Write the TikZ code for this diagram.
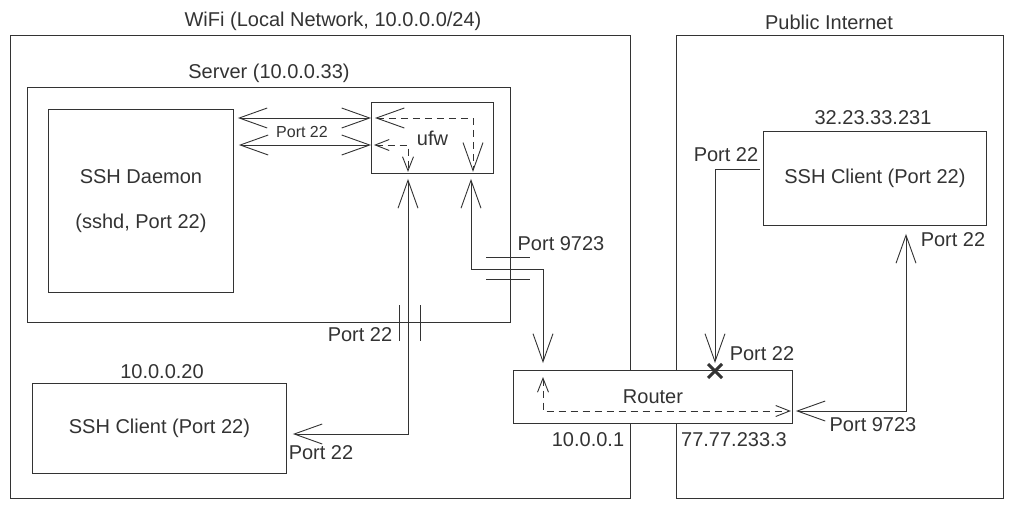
\documentclass[tikz,border=0pt]{standalone}
\usepackage{fontspec}
\setmainfont{Liberation Sans}
\usetikzlibrary{arrows.meta, shapes.misc}

\begin{document}
\begin{tikzpicture}[x=1pt, y=-1pt, line width=0.9pt, color=black!80,
    font=\fontsize{20}{24}\selectfont,
    box/.style={draw, inner sep=0pt, anchor=north west, fill=white},
    big/.style={>={Straight Barb[length=28pt, width=20pt]}},
    small/.style={>={Straight Barb[length=14pt, width=11pt]}},
    fwd/.style={dash pattern=on 7pt off 5pt}]
      \useasboundingbox (0,0) rectangle (1012,509);

      % 枠
      \node [box, minimum width=620pt, minimum height=463pt] (wifi) at (10,35) {};
      \node [box, minimum width=327pt, minimum height=463pt] (inet) at (676,35) {};
      \node [box, minimum width=483pt, minimum height=235pt] (server) at (27,87) {};
      \node [box, minimum width=185pt, minimum height=183pt, align=center] (sshd) at (48,109) {SSH Daemon\\[21pt](sshd, Port 22)};
      \node [box, minimum width=122pt, minimum height=71pt] (ufw) at (371,102) {ufw};
      \node [box, minimum width=254pt, minimum height=90pt] (client1) at (32,383) {SSH Client (Port 22)};
      \node [box, minimum width=223pt, minimum height=94pt] (client2) at (763,131) {SSH Client (Port 22)};
      \node [box, minimum width=279pt, minimum height=53pt] (router) at (513,370) {Router};

      % 説明
      \node (wifilbl) at (333,21) {WiFi (Local Network, 10.0.0.0/24)};
      \node (inetlbl) at (829,22) {Public Internet};
      \node (serverlbl) at (269,73) {Server (10.0.0.33)};
      \node (client1lbl) at (162,372) {10.0.0.20};
      \node (client2lbl) at (873,118) {32.23.33.231};
      \node (lanlbl) at (588,440) {10.0.0.1};
      \node (wanlbl) at (734,440) {77.77.233.3};

      % sshd <-> ufw
      \draw [big, <->] ([xshift=4pt]sshd.east |- 0,118) -- (ufw.west |- 0,118);
      \draw [big, <->] ([xshift=5pt]sshd.east |- 0,145) -- (ufw.west |- 0,145);
      \node [font=\fontsize{16}{19}\selectfont] (p22sshd) at (302,132) {Port 22};
      \draw [big, <->, fwd] ([xshift=4pt]ufw.west |- 0,118) -- (473,118) -- ([yshift=2pt]ufw.south -| 473,0);
      \draw [small, <->, fwd] ([xshift=3pt]ufw.west |- 0,145) -- (408,145) -- ([yshift=2pt]ufw.south -| 408,0);

      % LAN
      \draw [big, <->] ([yshift=-5pt]ufw.south -| 408,0) |- ([xshift=6pt]client1.east |- 0,434);
      \draw (399,305) -- (399,341) (420,305) -- (420,341);
      \node (p22srv) at (360,335) {Port 22};
      \node (p22c1) at (321,453) {Port 22};

      % ポート転送
      \draw [big, <->] ([yshift=-5pt]ufw.south -| 471,0) -- (471,269) -| ([yshift=7pt]router.north -| 543,0);
      \draw (486,257) -- (530,257) (486,279) -- (530,279);
      \node (p9723srv) at (561,244) {Port 9723};
      \draw [small, <->, fwd] ([yshift=-7pt]router.north -| 543,0) |- ([xshift=-2pt]router.east |- 0,411);

      % インターネット
      \draw [big, <->] ([xshift=3pt]router.east |- 0,411) -| ([yshift=-8pt]client2.south -| 906,0);
      \node (p9723wan) at (873,425) {Port 9723};
      \node (p22c2b) at (953,240) {Port 22};
      \draw [big, ->] ([xshift=-3pt]client2.west |- 0,169) -| ([yshift=7pt]router.north -| 715,0);
      \node [draw, cross out, line width=3pt, minimum size=11pt, inner sep=0pt] (blocked) at (715,371) {};
      \node (p22c2a) at (726,155) {Port 22};
      \node (p22blk) at (762,354) {Port 22};
    \end{tikzpicture}
\end{document}
